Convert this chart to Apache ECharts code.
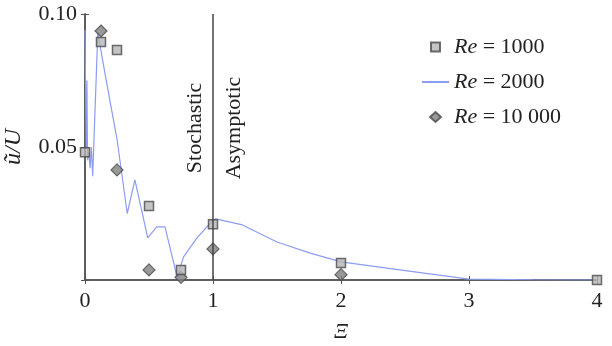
<!DOCTYPE html>
<html>
<head>
<meta charset="utf-8">
<script src="https://cdn.jsdelivr.net/npm/echarts@6/dist/echarts.min.js"></script>
<style>
  html, body { margin: 0; padding: 0; background: #fff; }
  #chart { width: 612px; height: 346px; }
</style>
</head>
<body>
<div id="chart"></div>
<script>
// Re = 1000 (squares)
const re1000X = [0, 0.125, 0.25, 0.5, 0.75, 1, 2, 4];
const re1000Y = [0.048, 0.0895, 0.0865, 0.0278, 0.0038, 0.021, 0.0064, 0];
// Re = 2000 (line)
const re2000X = [0, 0.005, 0.01, 0.015, 0.02, 0.03, 0.04, 0.05, 0.06, 0.1, 0.14, 0.2, 0.25, 0.33,
  0.39, 0.49, 0.56, 0.625, 0.72, 0.77, 0.875, 0.99, 1.02, 1.23, 1.5, 1.76, 2.0, 2.46, 3.0, 3.5, 4.0];
const re2000Y = [0.094, 0.07, 0.05, 0.075, 0.045, 0.048, 0.042, 0.05, 0.039, 0.093, 0.082, 0.066, 0.053, 0.025,
  0.0376, 0.0158, 0.02, 0.02, 0.001, 0.0087, 0.0158, 0.022, 0.023, 0.0207, 0.0143, 0.0101, 0.0068, 0.0038, 0.0003, 0.0001, 0];
// Re = 10000 (diamonds)
const re10000X = [0.125, 0.25, 0.5, 0.75, 1, 2];
const re10000Y = [0.0936, 0.0414, 0.0038, 0.001, 0.0117, 0.002];

const xTicks = [0, 1, 2, 3, 4];
const yTicks = [0, 0.05, 0.1];

const zip = (xs, ys) => xs.map((x, i) => [x, ys[i]]);
const serif = "'Liberation Serif', 'Times New Roman', serif";
const axisColor = "#555";

// legend icons padded to the 27x10 legend box so they keep their shape
const squareIcon = "path://M0,0L0,0M27,10L27,10M9,0.5H18V9.5H9Z";
const diamondIcon = "path://M0,0L0,0M27,10L27,10M13.5,0L19,5L13.5,10L8,5Z";

const chart = echarts.init(document.getElementById("chart"));
const option = {
  animation: false,
  grid: { left: 85, right: 15, top: 14, bottom: 66, outerBoundsMode: "none", containLabel: false },
  legend: {
    orient: "vertical",
    left: 416,
    top: 31,
    itemWidth: 27,
    itemHeight: 10,
    itemGap: 13,
    formatter: name => "{i|Re} = " + name.split("= ")[1],
    textStyle: {
      fontFamily: serif, fontSize: 22, color: "#222",
      rich: { i: { fontFamily: serif, fontSize: 22, fontStyle: "italic", color: "#222" } }
    },
    data: [
      { name: "Re = 1000", icon: squareIcon },
      { name: "Re = 2000", itemStyle: { opacity: 0 } },
      { name: "Re = 10 000", icon: diamondIcon }
    ]
  },
  xAxis: [
    {
      type: "value", min: xTicks[0], max: xTicks[xTicks.length - 1], interval: 1,
      name: "Ξ", nameLocation: "middle", nameGap: 41,
      nameTextStyle: { fontFamily: serif, fontSize: 22, fontStyle: "italic", color: "#222" },
      axisLine: { lineStyle: { color: axisColor, width: 1.5 } },
      axisTick: { inside: true, length: 4, lineStyle: { color: axisColor } },
      axisLabel: { fontFamily: serif, fontSize: 22, color: "#222", margin: 10 },
      splitLine: { show: false }
    },
    {
      type: "value", position: "top", min: 0, max: 4, interval: 1,
      axisLine: { show: true, lineStyle: { color: axisColor, width: 1.5 } },
      axisTick: { inside: true, length: 4, lineStyle: { color: axisColor } },
      axisLabel: { show: false }, splitLine: { show: false }
    }
  ],
  yAxis: [
    {
      type: "value", min: yTicks[0], max: yTicks[yTicks.length - 1], interval: 0.05,
      name: "ũ/U", nameLocation: "middle", nameGap: 59, nameRotate: 90,
      nameTextStyle: { fontFamily: serif, fontSize: 24, fontStyle: "italic", color: "#222" },
      axisLine: { show: true, lineStyle: { color: axisColor, width: 1.5 } },
      axisTick: { inside: true, length: 4, lineStyle: { color: axisColor } },
      axisLabel: {
        fontFamily: serif, fontSize: 22, color: "#222", margin: 8,
        formatter: v => (v === 0 ? "" : v.toFixed(2))
      },
      splitLine: { show: false }
    },
    {
      type: "value", position: "right", min: 0, max: 0.1, interval: 0.05,
      axisLine: { show: true, lineStyle: { color: axisColor, width: 1.5 } },
      axisTick: { inside: true, length: 4, lineStyle: { color: axisColor } },
      axisLabel: { show: false }, splitLine: { show: false }
    }
  ],
  graphic: [
    {
      type: "text", x: 195, y: 128, rotation: Math.PI / 2,
      style: { text: "Stochastic", font: "22px " + serif, fill: "#222", align: "center", verticalAlign: "middle" }
    },
    {
      type: "text", x: 234, y: 128, rotation: Math.PI / 2,
      style: { text: "Asymptotic", font: "22px " + serif, fill: "#222", align: "center", verticalAlign: "middle" }
    }
  ],
  series: [
    {
      name: "Re = 2000", type: "line", data: zip(re2000X, re2000Y),
      symbol: "none", z: 2,
      lineStyle: { color: "#8c9cf2", width: 1.2 },
      itemStyle: { color: "#8c9cf2" },
      markLine: {
        silent: true, symbol: "none", label: { show: false },
        lineStyle: { color: "#444", width: 1.5, type: "solid" },
        data: [{ xAxis: 1 }]
      }
    },
    {
      name: "Re = 1000", type: "scatter", data: zip(re1000X, re1000Y),
      symbol: "rect", symbolSize: 9, z: 4,
      itemStyle: { color: "#b5b5b5", borderColor: "#4a4a4a", borderWidth: 1.5 }
    },
    {
      name: "Re = 10 000", type: "scatter", data: zip(re10000X, re10000Y),
      symbol: "diamond", symbolSize: 12, z: 3,
      itemStyle: { color: "#808080", borderColor: "#4a4a4a", borderWidth: 1.2 }
    }
  ]
};
chart.setOption(option);
</script>
</body>
</html>
